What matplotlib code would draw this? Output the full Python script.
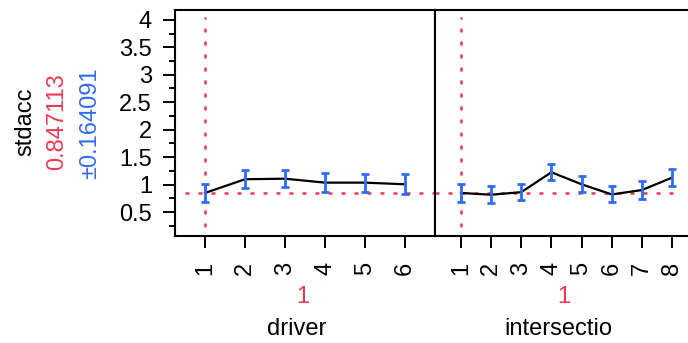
import matplotlib
matplotlib.use("Agg")
import matplotlib.pyplot as plt
from matplotlib.ticker import MultipleLocator
import numpy as np

plt.rcParams['font.family'] = ['Liberation Sans', 'DejaVu Sans']

# Data
driver_levels = ["1", "2", "3", "4", "5", "6"]
driver_pred = [0.847, 1.097, 1.107, 1.035, 1.035, 1.005]
driver_err = [0.164, 0.164, 0.160, 0.168, 0.164, 0.185]

inter_levels = ["1", "2", "3", "4", "5", "6", "7", "8"]
inter_pred = [0.847, 0.815, 0.862, 1.224, 1.005, 0.820, 0.900, 1.126]
inter_err = [0.164, 0.151, 0.151, 0.146, 0.146, 0.146, 0.169, 0.160]

resp_name = "stdacc"
resp_value = "0.847113"
resp_ci = "\u00b10.164091"
factor_names = ["driver", "intersectio"]
current_levels = ["1", "1"]
current_value = 0.847113

RED = '#EB3B50'
BLUE = '#2F6CF2'
FS = 17

W, H = 688, 343
fig = plt.figure(figsize=(W / 100, H / 100), dpi=100)

def ax_px(x0, x1, y0, y1):
    return fig.add_axes([x0 / W, 1 - y1 / H, (x1 - x0) / W, (y1 - y0) / H])

ax1 = ax_px(175, 435, 10, 236)
ax2 = ax_px(435, 698, 10, 236)

ylim = (0.063, 4.18)
panels = [
    (ax1, driver_levels, driver_pred, driver_err, (0.25, 6.75), (0.5, 6.75)),
    (ax2, inter_levels, inter_pred, inter_err, (0.14, 8.86), (0.14, 8.2)),
]
dash = (0, (1.6, 3.6))
for ax, levels, pred, err, xl, hx in panels:
    x = np.arange(1, len(levels) + 1)
    ax.set_xlim(*xl)
    ax.set_ylim(*ylim)
    ax.hlines(current_value, hx[0], hx[1], colors=RED, linestyles=dash, lw=1.8, zorder=1)
    ax.vlines(1, 0.23, 4.06, colors=RED, linestyles=dash, lw=1.8, zorder=1)
    ax.plot(x, pred, color='black', lw=1.6, zorder=2)
    ax.errorbar(x, pred, yerr=err, fmt='none', ecolor=BLUE, elinewidth=2.0,
                capsize=3.0, capthick=2.0, zorder=3)
    ax.set_xticks(x)
    ax.set_xticklabels(levels, rotation=90, fontsize=FS)
    ax.tick_params(axis='x', direction='out', length=8.5, width=1.4, pad=10, colors='black')
    for sp in ax.spines.values():
        sp.set_linewidth(1.5)
        sp.set_color('black')

ax1.yaxis.set_major_locator(MultipleLocator(0.5))
ax1.yaxis.set_minor_locator(MultipleLocator(0.25))
ax1.set_yticks(np.arange(0.5, 4.01, 0.5))
ax1.set_yticklabels(["0.5", "1", "1.5", "2", "2.5", "3", "3.5", "4"], fontsize=FS)
ax1.tick_params(axis='y', which='major', direction='out', length=8.5, width=1.4, pad=8)
ax1.tick_params(axis='y', which='minor', direction='out', length=4, width=1.4)
ax2.set_yticks([])
ax2.tick_params(axis='y', which='both', left=False, labelleft=False)

# Left labels
fig.text(25 / W, 1 - 122 / H, resp_name, rotation=90, ha='center', va='center', fontsize=FS)
fig.text(57 / W, 1 - 122 / H, resp_value, rotation=90, ha='center', va='center', fontsize=FS, color=RED)
fig.text(90 / W, 1 - 123 / H, resp_ci, rotation=90, ha='center', va='center', fontsize=FS, color=BLUE)

# Bottom labels
for cx_lvl, cx_name, lvl, name in [(303, 297, current_levels[0], factor_names[0]),
                                   (564, 558, current_levels[1], factor_names[1])]:
    fig.text(cx_lvl / W, 1 - 297 / H, lvl, ha='center', va='center', fontsize=FS, color=RED)
    fig.text(cx_name / W, 1 - 329 / H, name, ha='center', va='center', fontsize=FS)

fig.savefig("out.png", dpi=100)
